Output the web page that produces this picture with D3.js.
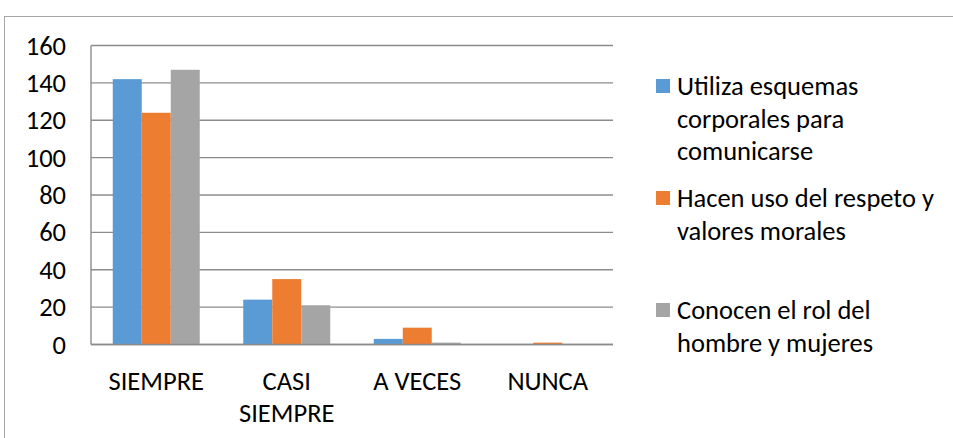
<!DOCTYPE html>
<html><head><meta charset="utf-8">
<script src="https://cdn.jsdelivr.net/npm/d3@7/dist/d3.min.js"></script>
<style>body{margin:0;background:#fff}svg{display:block}text{font-family:Carlito,"Open Sans",sans-serif;fill:#000}</style>
</head><body>
<svg id="c" width="953" height="438"></svg>
<script>
const categories = [["SIEMPRE"], ["CASI", "SIEMPRE"], ["A VECES"], ["NUNCA"]];
const seriesNames = [
  ["Utiliza esquemas", "corporales para", "comunicarse"],
  ["Hacen uso del respeto y", "valores morales"],
  ["Conocen el rol del", "hombre y mujeres"]
];
const seriesColors = ["#5B9BD5", "#ED7D31", "#A5A5A5"];
const utiliza = [142, 24, 3, 0];
const hacen = [124, 35, 9, 1];
const conocen = [147, 21, 1, 0];
const yTicks = [0, 20, 40, 60, 80, 100, 120, 140, 160];

const series = [utiliza, hacen, conocen];
const svg = d3.select("#c");
const FS = 26.5;

// chart frame
svg.append("rect").attr("x", 4.5).attr("y", 16.5).attr("width", 1000).attr("height", 1000)
  .attr("fill", "none").attr("stroke", "#a6a6a6").attr("stroke-width", 1);

const L = 91, R = 613, T = 45.5, B = 344.5;
const x0 = d3.scaleBand().domain(d3.range(categories.length)).range([L, R]).paddingInner(1/3).paddingOuter(1/6);
const x1 = d3.scaleBand().domain(d3.range(series.length)).range([0, x0.bandwidth()]);
const y = d3.scaleLinear().domain([0, 160]).range([B, T]);

// gridlines
svg.append("g").selectAll("line").data(yTicks).join("line")
  .attr("x1", L).attr("x2", R).attr("y1", d => y(d)).attr("y2", d => y(d))
  .attr("stroke", "#8c8c8c").attr("stroke-width", 1.4);
// y axis line
svg.append("line").attr("x1", L).attr("x2", L).attr("y1", T).attr("y2", B)
  .attr("stroke", "#8c8c8c").attr("stroke-width", 1.4);
// y ticks
svg.append("g").selectAll("text").data(yTicks).join("text")
  .attr("x", 66).attr("y", d => y(d)).attr("text-anchor", "end")
  .attr("dominant-baseline", "central").style("font-size", FS + "px").text(d => d);

// bars
series.forEach((vals, si) => {
  svg.append("g").selectAll("rect").data(vals).join("rect")
    .attr("x", (d, i) => x0(i) + x1(si)).attr("width", x1.bandwidth())
    .attr("y", d => y(d)).attr("height", d => B - y(d))
    .attr("fill", seriesColors[si]);
});
// baseline on top
svg.append("line").attr("x1", L).attr("x2", R).attr("y1", B).attr("y2", B)
  .attr("stroke", "#8c8c8c").attr("stroke-width", 1.4);

// x labels
categories.forEach((lines, i) => {
  const cx = x0(i) + x0.bandwidth() / 2;
  lines.forEach((ln, k) => {
    svg.append("text").attr("x", cx).attr("y", 381 + k * 32)
      .attr("text-anchor", "middle").attr("dominant-baseline", "central")
      .style("font-size", FS + "px").text(ln);
  });
});

// legend
const legY = [86, 198, 310];
seriesNames.forEach((lines, si) => {
  svg.append("rect").attr("x", 656).attr("y", legY[si] - 7).attr("width", 14).attr("height", 14)
    .attr("fill", seriesColors[si]);
  lines.forEach((ln, k) => {
    svg.append("text").attr("x", 677).attr("y", legY[si] + k * 32.5)
      .attr("dominant-baseline", "central").style("font-size", FS + "px").text(ln);
  });
});
</script>
</body></html>
